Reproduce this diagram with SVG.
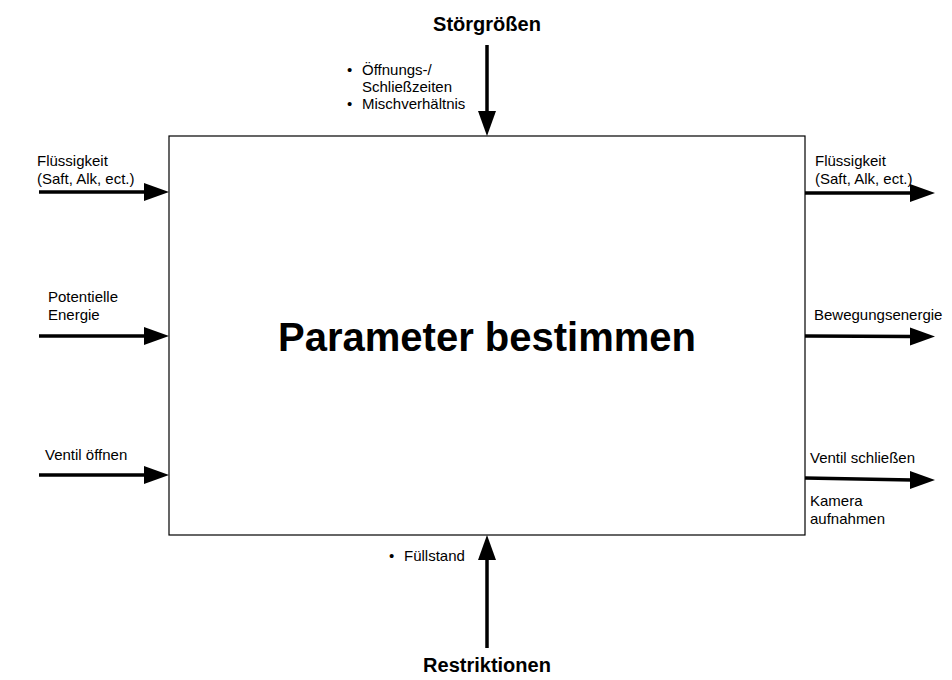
<svg xmlns="http://www.w3.org/2000/svg" width="952" height="680" viewBox="0 0 952 680">
<style>
.t{font-family:"Liberation Sans",Arial,sans-serif;font-size:15px;fill:#000}
.b{font-family:"Liberation Sans",Arial,sans-serif;font-weight:bold;fill:#000}
.ln{stroke:#000;stroke-width:3.5;fill:none}
.hd{fill:#000;stroke:none}
</style>
<rect width="952" height="680" fill="#fff"/>
<g id="process">
<rect x="169" y="136" width="636" height="399" fill="#fff" stroke="#000" stroke-width="1.2"/>
<text class="b" x="487" y="351" font-size="40" text-anchor="middle">Parameter bestimmen</text>
</g>
<g id="stoergroessen">
<text class="b" x="487" y="31" font-size="20" text-anchor="middle">Störgrößen</text>
<text class="t" x="347" y="75">•</text>
<text class="t" x="362" y="75">Öffnungs-/</text>
<text class="t" x="362" y="92">Schließzeiten</text>
<text class="t" x="347" y="109">•</text>
<text class="t" x="362" y="109">Mischverhältnis</text>
</g>
<g id="restriktionen">
<text class="b" x="487" y="672" font-size="20" text-anchor="middle">Restriktionen</text>
<text class="t" x="389" y="561">•</text>
<text class="t" x="404" y="561">Füllstand</text>
</g>
<g id="inputs">
<text class="t" x="37" y="166">Flüssigkeit</text>
<text class="t" x="37" y="184">(Saft, Alk, ect.)</text>
<text class="t" x="48" y="302">Potentielle</text>
<text class="t" x="48" y="320">Energie</text>
<text class="t" x="45" y="460">Ventil öffnen</text>
</g>
<g id="outputs">
<text class="t" x="815" y="166">Flüssigkeit</text>
<text class="t" x="815" y="184">(Saft, Alk, ect.)</text>
<text class="t" x="814" y="320">Bewegungsenergie</text>
<text class="t" x="810" y="463">Ventil schließen</text>
<text class="t" x="810" y="506">Kamera</text>
<text class="t" x="810" y="524">aufnahmen</text>
</g>
<g id="connectors">
<line class="ln" x1="487" y1="45" x2="487" y2="113"/>
<polygon class="hd" points="478,111 496,111 487,136"/>
<line class="ln" x1="487" y1="648" x2="487" y2="558"/>
<polygon class="hd" points="478,560 496,560 487,535"/>
<line class="ln" x1="39" y1="192" x2="146" y2="192"/>
<polygon class="hd" points="144,183 169,192 144,201"/>
<line class="ln" x1="39" y1="336" x2="146" y2="336"/>
<polygon class="hd" points="144,327 169,336 144,345"/>
<line class="ln" x1="39" y1="475" x2="146" y2="475"/>
<polygon class="hd" points="144,466 169,475 144,484"/>
<line class="ln" x1="805" y1="193" x2="912" y2="193"/>
<polygon class="hd" points="910,184 935,193 910,202"/>
<line class="ln" x1="805" y1="336" x2="912" y2="336.5"/>
<polygon class="hd" points="910,327.5 935,336.5 910,345.5"/>
<line class="ln" x1="805" y1="478" x2="912" y2="480"/>
<polygon class="hd" points="910,471 935,480 910,489"/>
</g>
</svg>
